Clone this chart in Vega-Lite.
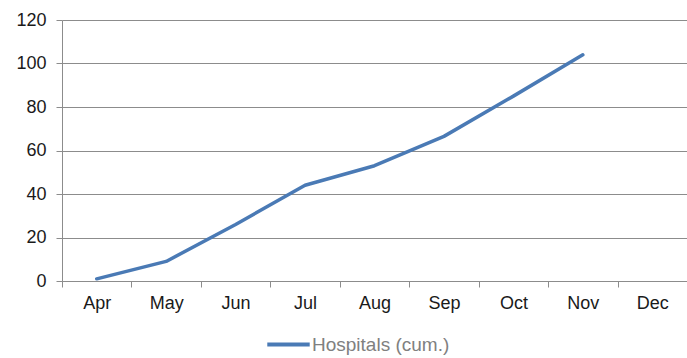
{
  "$schema": "https://vega.github.io/schema/vega-lite/v6.json",
  "width": 625,
  "height": 261,
  "autosize": "none",
  "padding": {"left": 62, "top": 20, "right": 0, "bottom": 77},
  "background": "white",
  "config": {
    "view": {"stroke": null},
    "font": "Liberation Sans"
  },
  "data": {
    "values": [
      {"month": "Apr", "value": 1, "series": "Hospitals (cum.)"},
      {"month": "May", "value": 9, "series": "Hospitals (cum.)"},
      {"month": "Jun", "value": 26, "series": "Hospitals (cum.)"},
      {"month": "Jul", "value": 44, "series": "Hospitals (cum.)"},
      {"month": "Aug", "value": 53, "series": "Hospitals (cum.)"},
      {"month": "Sep", "value": 66.5, "series": "Hospitals (cum.)"},
      {"month": "Oct", "value": 85, "series": "Hospitals (cum.)"},
      {"month": "Nov", "value": 104, "series": "Hospitals (cum.)"},
      {"month": "Dec", "value": null, "series": "Hospitals (cum.)"}
    ]
  },
  "mark": {"type": "line", "strokeWidth": 3.5, "strokeCap": "round", "strokeJoin": "round"},
  "encoding": {
    "x": {
      "field": "month",
      "type": "ordinal",
      "sort": null,
      "scale": {"type": "band", "paddingInner": 0, "paddingOuter": 0},
      "axis": {
        "title": null,
        "labelAngle": 0,
        "labelFontSize": 18,
        "labelColor": "#1a1a1a",
        "labelPadding": 7,
        "tickBand": "extent",
        "tickSize": 6,
        "tickColor": "#8c8c8c",
        "domainColor": "#8c8c8c",
        "grid": false
      }
    },
    "y": {
      "field": "value",
      "type": "quantitative",
      "scale": {"domain": [0, 120], "nice": false},
      "axis": {
        "title": null,
        "values": [0, 20, 40, 60, 80, 100, 120],
        "labelFontSize": 18,
        "labelColor": "#1a1a1a",
        "labelPadding": 10,
        "tickSize": 6,
        "tickColor": "#8c8c8c",
        "domainColor": "#8c8c8c",
        "grid": true,
        "gridColor": "#8c8c8c",
        "gridOpacity": 1
      }
    },
    "color": {
      "field": "series",
      "type": "nominal",
      "scale": {"range": ["#4a7ab5"]},
      "legend": {
        "title": null,
        "orient": "none",
        "legendX": 203,
        "legendY": 301,
        "symbolType": "stroke",
        "symbolSize": 1800,
        "symbolStrokeWidth": 4,
        "symbolStrokeColor": "#4a7ab5",
        "labelFontSize": 19,
        "labelColor": "#808080",
        "labelOffset": 0
      }
    }
  }
}
